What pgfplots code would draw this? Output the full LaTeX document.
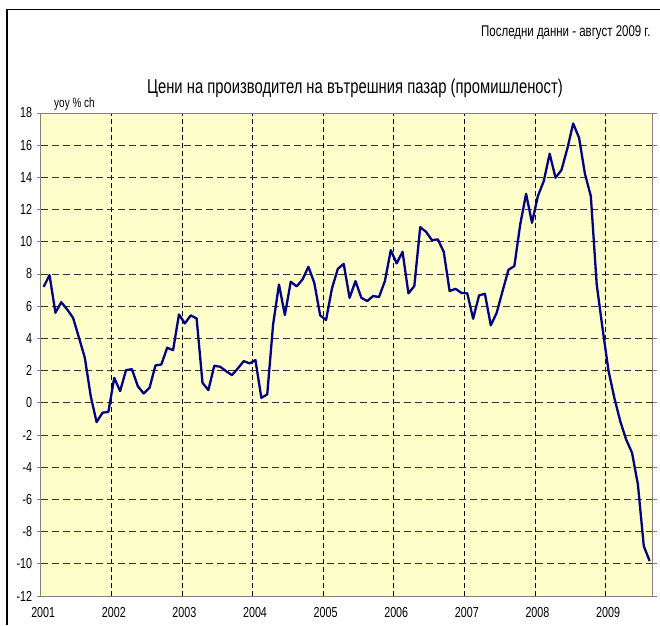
\documentclass[border=0pt]{standalone}
\usepackage{fontspec}
\setmainfont{Liberation Sans}[FakeStretch=0.74]
\usepackage{pgfplots}
\pgfplotsset{compat=1.18}
\usepackage{pgfplotstable}

\definecolor{plotbg}{HTML}{FFFFCC}
\definecolor{ppiline}{HTML}{000080}
\definecolor{axisgray}{HTML}{808080}

% month index (0 = Jan 2001), yoy % change
\pgfplotstableread{
m v
0 7.2
1 7.93
2 5.6
3 6.25
4 5.8
5 5.28
6 4.05
7 2.8
8 0.42
9 -1.2
10 -0.62
11 -0.56
12 1.55
13 0.73
14 2.03
15 2.09
16 1.04
17 0.58
18 0.93
19 2.32
20 2.38
21 3.42
22 3.27
23 5.49
24 4.93
25 5.43
26 5.24
27 1.24
28 0.79
29 2.3
30 2.24
31 1.97
32 1.72
33 2.13
34 2.59
35 2.45
36 2.65
37 0.31
38 0.52
39 4.87
40 7.35
41 5.45
42 7.52
43 7.23
44 7.66
45 8.45
46 7.45
47 5.43
48 5.14
49 7.1
50 8.32
51 8.63
52 6.52
53 7.56
54 6.52
55 6.32
56 6.63
57 6.57
58 7.56
59 9.48
60 8.66
61 9.38
62 6.8
63 7.25
64 10.91
65 10.62
66 10.1
67 10.15
68 9.38
69 6.94
70 7.08
71 6.83
72 6.8
73 5.22
74 6.67
75 6.77
76 4.81
77 5.59
78 6.94
79 8.26
80 8.49
81 11.08
82 12.98
83 11.18
84 12.84
85 13.77
86 15.47
87 13.98
88 14.45
89 15.78
90 17.35
91 16.46
92 14.22
93 12.84
94 7.35
95 4.6
96 2.0
97 0.3
98 -1.14
99 -2.28
100 -3.1
101 -5.07
102 -8.9
103 -9.83
}\ppi

\begin{document}
\begin{tikzpicture}
  \path[use as bounding box] (-40.7pt,-29pt) rectangle (619.3pt,596pt);
  % chart frame (top and left edges only visible)
  \draw[black, line width=1.3pt] (-33.7pt,-29pt) -- (-33.7pt,586.7pt) -- (619.3pt,586.7pt);

  \begin{axis}[
      at={(0pt,0pt)}, anchor=south west,
      width=611.9pt, height=483pt, scale only axis,
      xmin=-0.5, xmax=103.5,
      ymin=-12, ymax=18,
      xtick={-0.5,11.5,23.5,35.5,47.5,59.5,71.5,83.5,95.5},
      xticklabels={2001,2002,2003,2004,2005,2006,2007,2008,2009},
      ytick={-12,-10,...,18},
      extra y ticks={0},
      extra y tick labels={},
      extra y tick style={grid=major, major grid style={axisgray, solid, line width=1.2pt}},
      grid=major,
      major x grid style={black, line width=0.8pt, dash pattern=on 5pt off 3pt},
      major y grid style={black!80, line width=0.8pt, dash pattern=on 7pt off 4pt},
      axis background/.style={fill=plotbg},
      axis line style={axisgray, line width=1pt},
      tick align=outside,
      xtick style={draw=none},
      ytick style={axisgray, line width=0.8pt},
      major tick length=4pt,
      tick label style={font=\fontsize{14.5}{16}\selectfont},
      /pgf/number format/assume math mode=true,
      yticklabel style={xshift=-1pt},
      xticklabel style={xshift=2.5pt, yshift=-4pt},
    ]
    \addplot[ppiline, line width=2.3pt, line join=round] table[x=m, y=v] {\ppi};
  \end{axis}

  \node[anchor=center, font=\fontsize{20}{22}\selectfont] at (314.3pt,508pt)
    {Цени на производител на вътрешния пазар (промишленост)};
  \node[anchor=east, font=\fontsize{15.5}{17}\selectfont] at (613.3pt,563pt)
    {Последни данни - август 2009 г.};
  \node[anchor=west, font=\fontsize{13.5}{15}\selectfont] at (10pt,492pt)
    {yoy \% ch};
\end{tikzpicture}
\end{document}
